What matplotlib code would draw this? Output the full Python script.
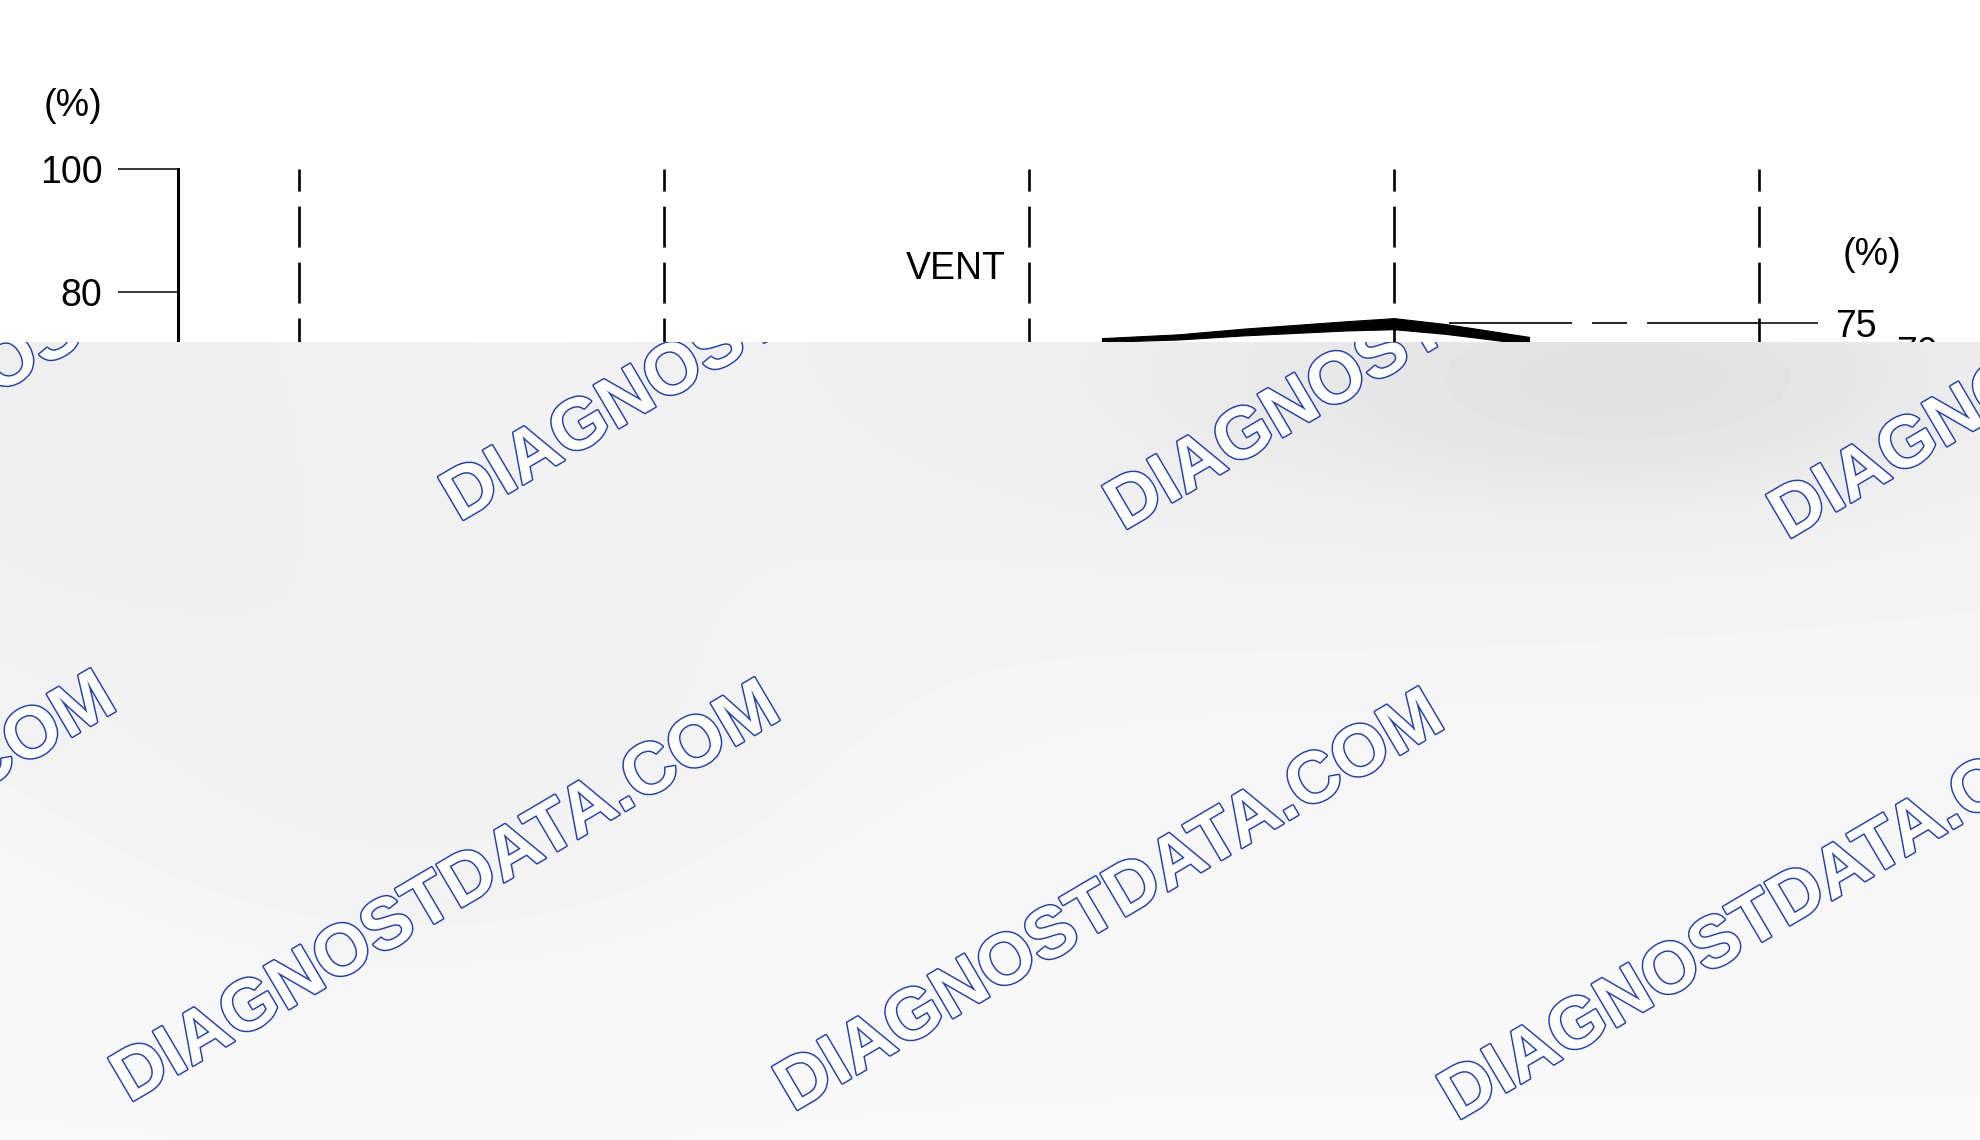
import matplotlib
matplotlib.use('Agg')
import matplotlib.pyplot as plt
import matplotlib.patheffects as pe
import numpy as np

plt.rcParams['font.family'] = ['Liberation Sans', 'DejaVu Sans']
plt.rcParams['lines.scale_dashes'] = False

# chart values
left_ticks = [100, 80]
right_ticks = [75]
extra_right_label = 70
guide_x = [1, 2, 3, 4, 5]
vent_label = 'VENT'
curve_x = [3.20, 3.41, 3.59, 3.87, 4.00, 4.14, 4.25, 4.37]
curve_y = [72.2, 72.7, 73.5, 74.5, 74.85, 74.0, 73.1, 72.1]
curve_half = [0.3, 0.42, 0.55, 0.75, 0.9, 0.8, 0.7, 0.6]   # half thickness of the inked band
level_x = [4.15, 5.0]
level_y = [75, 75]
watermark = 'DIAGNOSTDATA.COM'

W, H = 1980, 1140
CUT = 342   # top of the grey cover, in pixels from the top
fig = plt.figure(figsize=(W / 100, H / 100), dpi=100, facecolor='white')

# main chart axes: left axis at 178 px, right guide at 1759 px, top (100 %) at 169 px
ax = fig.add_axes([178 / W, 1 - CUT / H, (1759 - 178) / W, (CUT - 169) / H])
ax.set_xlim(0.669, 5.0)
ax.set_ylim(100 - (CUT - 169) / 6.15, 100)
ax.patch.set_alpha(0)
for s in ['top', 'right', 'bottom']:
    ax.spines[s].set_visible(False)
ax.spines['left'].set_linewidth(2.2)
ax.set_xticks([])
ax.set_yticks(left_ticks)
ax.set_yticklabels([str(v) for v in left_ticks])
ax.tick_params(axis='y', direction='out', length=43, width=1.1, pad=11.5, labelsize=27)

ax2 = ax.twinx()
ax2.set_ylim(ax.get_ylim())
for s in ['top', 'left', 'bottom', 'right']:
    ax2.spines[s].set_visible(False)
ax2.set_yticks(right_ticks)
ax2.set_yticklabels([str(v) for v in right_ticks])
ax2.tick_params(axis='y', direction='out', length=42.5, width=1.1, pad=12, labelsize=27)

# dashed guide lines
for gx in guide_x:
    ax.plot([gx, gx], [60, 100], color='black', lw=1.9, dashes=(29.5, 10.8), clip_on=False)

# main curve (thick inked band) and the 75 % level line
cy = np.array(curve_y)
ch = np.array(curve_half)
ax.fill_between(curve_x, cy - ch, cy + ch, color='black', lw=0.8, edgecolor='black')
ax.plot(level_x, level_y, color='black', lw=1.2, dashes=(88.6, 14.4, 25.2, 14.4, 80.6))

ax.text(2.937, 83.8, vent_label, ha='right', va='center', fontsize=27)
ax.annotate('(%)', xy=(0, 1), xycoords='axes fraction', xytext=(-54.5, 45.5),
            textcoords='offset points', ha='right', va='center', fontsize=27)
ax.annotate('(%)', xy=(1, 1), xycoords='axes fraction', xytext=(60.5, -62),
            textcoords='offset points', ha='left', va='center', fontsize=27)
ax.annotate(str(extra_right_label), xy=(5.0, extra_right_label), xycoords='data',
            xytext=(99, 0), textcoords='offset points', ha='left', va='center',
            fontsize=27, annotation_clip=False)

# grey watermark cover over the lower part of the page
cov = fig.add_axes([0, 0, 1, 1 - CUT / H])
cov.set_zorder(10)
cov.set_xlim(0, W)
cov.set_ylim(H, CUT)
cov.axis('off')

gx_, gy_ = np.meshgrid(np.linspace(0, W, 400), np.linspace(CUT, H, 160))
shade = 0.948 + 0.03 * (gy_ - CUT) / (H - CUT)
blobs = [(1660, 380, 230, 90, -0.06), (1250, 400, 300, 120, -0.02),
         (420, 760, 280, 180, -0.02), (60, 460, 180, 140, -0.015)]
for cx, cyb, sx, sy, amp in blobs:
    shade += amp * np.exp(-((gx_ - cx) ** 2 / (2 * sx ** 2) + (gy_ - cyb) ** 2 / (2 * sy ** 2)))
cov.imshow(shade, cmap='gray', vmin=0, vmax=1, extent=[0, W, H, CUT],
           aspect='auto', interpolation='bicubic')

rows = [(113, 304), (-217, 885)]
for x0, y0 in rows:
    for k in range(4):
        cov.text(x0 + 664 * k, y0 + 9 * k, watermark, rotation=30.5, rotation_mode='anchor',
                 ha='center', va='center', fontsize=52, fontweight='bold', color='white',
                 clip_on=True,
                 path_effects=[pe.Stroke(linewidth=2.1, foreground='#2140ad'), pe.Normal()])

fig.savefig('out.png', dpi=100, facecolor='white')
